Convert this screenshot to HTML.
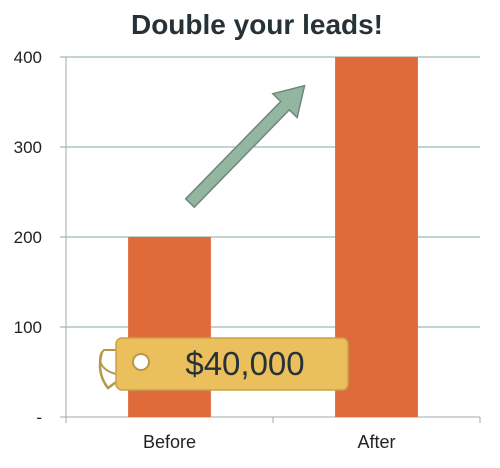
<!DOCTYPE html>
<html><head><meta charset="utf-8"><style>
body{margin:0;background:#fff;}
svg{display:block;font-family:"Liberation Sans",sans-serif;}
</style></head><body>
<svg width="500" height="468" viewBox="0 0 500 468">
<text x="257" y="34" text-anchor="middle" font-size="28" font-weight="bold" fill="#263238">Double your leads!</text>
<g id="grid"></g>
<g id="bars"></g>
<g id="axis"></g>
<g transform="translate(190,203) rotate(-45.7)">
<polygon points="0,-6 136,-6 136,-17 164,0 136,17 136,6 0,6" fill="#95b5a3" stroke="#6c8a7a" stroke-width="1.5"/>
</g>
<g>
<path d="M116,374 C100,370 96,358 104,350 L116,350" fill="none" stroke="#b7984a" stroke-width="2"/>
<path d="M102,352 C98,365 100,378 108,388 L138,366" fill="none" stroke="#b7984a" stroke-width="2.5"/>
<rect x="116" y="338" width="232" height="52" rx="6" fill="#ebc05c" stroke="#c9a24a" stroke-width="1.5"/>
<circle cx="141" cy="362" r="8" fill="#fff" stroke="#b7984a" stroke-width="2"/>
<text x="245" y="375" text-anchor="middle" font-size="33" fill="#263238">$40,000</text>
</g>
</svg>
<script>
const categories=["Before","After"];
const values=[200,400];
const ticks=[0,100,200,300,400];
const tickLabels=["-","100","200","300","400"];
const L=66,R=480,T=57,B=417,max=400;
const y=v=>B-(v/max)*(B-T);
const band=(R-L)/categories.length;
const ns="http://www.w3.org/2000/svg";
function mk(tag,attrs,parent){const e=document.createElementNS(ns,tag);for(const k in attrs)e.setAttribute(k,attrs[k]);parent.appendChild(e);return e;}
const grid=document.getElementById('grid'),bars=document.getElementById('bars'),axis=document.getElementById('axis');
ticks.forEach((t,i)=>{
 const ln=mk('line',{x1:L-6,x2:R,y1:y(t),y2:y(t),stroke:t===0?'#a0aaa5':'#8aa89a','stroke-width':1},grid);
 
 
 const tx=mk('text',{x:42,y:y(t)+6,'text-anchor':'end','font-size':17,fill:'#222'},axis);
 tx.textContent=tickLabels[i];
 
 
});
const yl=mk('line',{x1:L,x2:L,y1:T,y2:B,stroke:'#a0aaa5'},axis);


for(let i=0;i<=categories.length;i++){
 const tk=mk('line',{x1:L+band*i,x2:L+band*i,y1:B,y2:B+6,stroke:'#a0aaa5'},axis);
 
 
}
categories.forEach((c,i)=>{
 const cx=L+band*(i+0.5),w=band*0.4;
 const r=mk('rect',{x:cx-w/2,y:y(values[i]),width:w,height:B-y(values[i]),fill:'#df6a3a'},bars);
 
 
 const t=mk('text',{x:cx,y:448,'text-anchor':'middle','font-size':18,fill:'#222'},axis);
 t.textContent=c;
 
 
});
</script>
</body></html>
